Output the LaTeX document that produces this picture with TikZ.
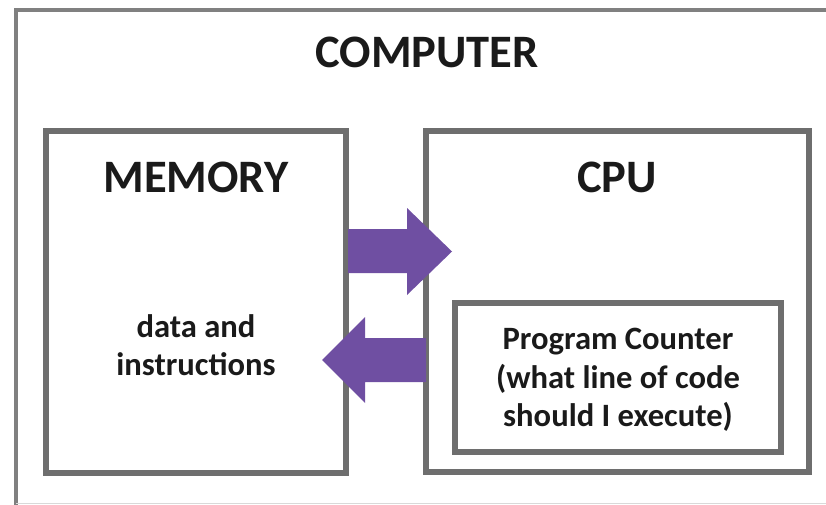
\documentclass[tikz,border=0pt]{standalone}
\usepackage{fontspec}
\setmainfont{Carlito}
\begin{document}
\begin{tikzpicture}[x=1pt,y=-1pt,
  boxline/.style={draw=boxgray,line width=6pt},
  title/.style={font=\bfseries\fontsize{46.5}{55}\selectfont,text=txt},
  body/.style={font=\bfseries\fontsize{32.6}{38.5}\selectfont,text=txt,align=center},
  blockarrow/.style={fill=arrowpurple,draw=none}]
\definecolor{boxgray}{HTML}{6E6E6E}
\definecolor{outergray}{HTML}{808080}
\definecolor{arrowpurple}{HTML}{6F4FA2}
\definecolor{txt}{HTML}{1A1A1A}
\useasboundingbox (0,0) rectangle (826,505);
\begin{scope}
\clip (0,0) rectangle (826,505);
\draw[outergray,line width=4pt] (16,520) -- (16,10) -- (840,10);
\draw[gray!30,line width=1pt] (16,503.5) -- (826,503.5);
\end{scope}
\node[title] (computer) at (427,52) {COMPUTER};
\node[boxline,minimum width=300pt,minimum height=342pt,inner sep=0pt] (memory) at (196,302) {};
\node[boxline,minimum width=383pt,minimum height=341pt,inner sep=0pt] (cpu) at (617.5,301.5) {};
\node[boxline,minimum width=326pt,minimum height=149pt,inner sep=0pt] (pc) at (618,377.5) {};
\node[title] (memtitle) at (196,177) {MEMORY};
\node[title] (cputitle) at (617,177) {CPU};
\node[body] (data) at (196,345) {data and\\instructions};
\node[body] (pctext) at (618,380) {Program Counter\\(what line of code\\should I execute)};
\fill[blockarrow] (348,229) -- (407,229) -- (407,208) -- (452,251.5) -- (407,295) -- (407,273) -- (348,273) -- cycle;
\fill[blockarrow] (426,338) -- (365,338) -- (365,317) -- (322,360) -- (365,403) -- (365,382) -- (426,382) -- cycle;
\end{tikzpicture}
\end{document}
